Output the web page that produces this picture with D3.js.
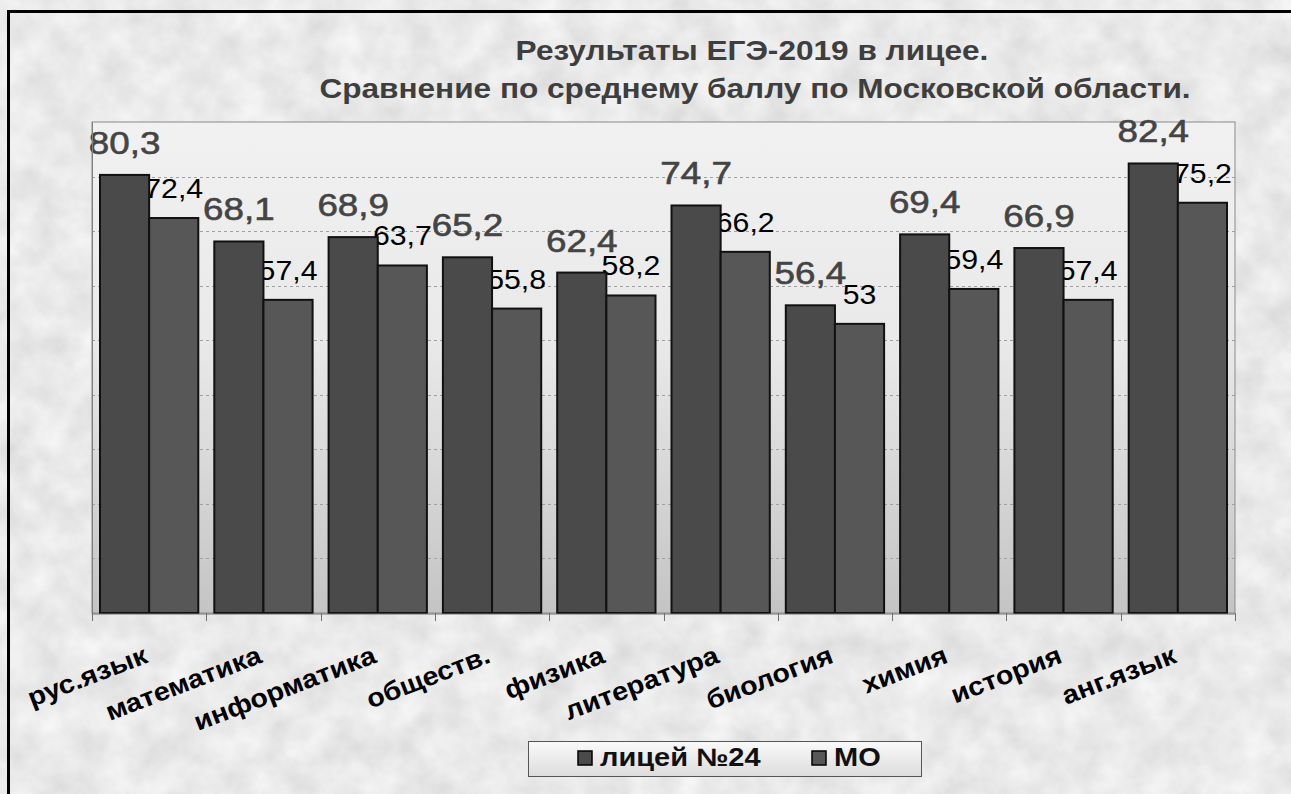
<!DOCTYPE html>
<html>
<head>
<meta charset="utf-8">
<script src="https://cdn.jsdelivr.net/npm/d3@7"></script>
<style>
  html, body { margin: 0; padding: 0; background: #fff; }
  svg { display: block; font-family: Arial, "Liberation Sans", sans-serif; }
</style>
</head>
<body>
<div id="chart"></div>
<script>
const subjects = ['рус.язык', 'математика', 'информатика', 'обществ.', 'физика',
  'литература', 'биология', 'химия', 'история', 'анг.язык'];
const lyceum = [80.3, 68.1, 68.9, 65.2, 62.4, 74.7, 56.4, 69.4, 66.9, 82.4];
const region = [72.4, 57.4, 63.7, 55.8, 58.2, 66.2, 53, 59.4, 57.4, 75.2];
const seriesNames = ['лицей №24', 'МО'];
const gridValues = [10, 20, 30, 40, 50, 60, 70, 80];
const titleLines = ['Результаты ЕГЭ-2019 в лицее.', 'Сравнение по среднему баллу по Московской области.'];

const W = 1291;
const H = 794;
const plot = { left: 92, top: 122, right: 1235, bottom: 613 };
const colors = ['#4a4a4a', '#575757'];
const SX = 1.17; // the source picture is stretched sideways

const svg = d3.select('#chart')
  .append('svg')
  .attr('width', W)
  .attr('height', H);

const defs = svg.append('defs');

// mottled grey paper background
const granite = defs.append('filter')
  .attr('id', 'granite')
  .attr('x', 0).attr('y', 0).attr('width', '100%').attr('height', '100%');
granite.append('feTurbulence')
  .attr('type', 'fractalNoise')
  .attr('baseFrequency', 0.03)
  .attr('numOctaves', 4)
  .attr('seed', 7);
granite.append('feColorMatrix')
  .attr('type', 'matrix')
  .attr('values', '0.28 0 0 0 0.68  0.28 0 0 0 0.68  0.28 0 0 0 0.68  0 0 0 0 1');

const plotGrad = defs.append('linearGradient')
  .attr('id', 'plotGrad')
  .attr('x1', 0).attr('y1', 0).attr('x2', 0).attr('y2', 1);
plotGrad.append('stop').attr('offset', '0%').attr('stop-color', '#f1f1f1');
plotGrad.append('stop').attr('offset', '45%').attr('stop-color', '#e9e9e9');
plotGrad.append('stop').attr('offset', '100%').attr('stop-color', '#c4c4c4');

const legendGrad = defs.append('linearGradient')
  .attr('id', 'legendGrad')
  .attr('x1', 0).attr('y1', 0).attr('x2', 0).attr('y2', 1);
legendGrad.append('stop').attr('offset', '0%').attr('stop-color', '#fafafa');
legendGrad.append('stop').attr('offset', '100%').attr('stop-color', '#dcdcdc');

svg.append('rect')
  .attr('width', W).attr('height', H)
  .attr('filter', 'url(#granite)');

svg.append('rect')
  .attr('x', 8.5).attr('y', 11.5)
  .attr('width', W + 20).attr('height', H + 20)
  .attr('fill', 'none')
  .attr('stroke', '#000')
  .attr('stroke-width', 3);

// title
svg.selectAll('text.title')
  .data(titleLines)
  .enter()
  .append('text')
  .attr('class', 'title')
  .attr('transform', (d, i) => `translate(${i === 0 ? 752 : 755},${60 + i * 38}) scale(${SX},1)`)
  .attr('text-anchor', 'middle')
  .attr('font-size', 27)
  .attr('font-weight', 'bold')
  .attr('fill', '#3e3e3e')
  .text(d => d);

const x0 = d3.scaleBand()
  .domain(subjects)
  .range([plot.left, plot.right])
  .paddingInner(0.14)
  .paddingOuter(0.07);

const x1 = d3.scaleBand()
  .domain([0, 1])
  .range([0, x0.bandwidth()]);

const y = d3.scaleLinear()
  .domain([0, 90])
  .range([plot.bottom, plot.top]);

// plot area
svg.append('rect')
  .attr('x', plot.left).attr('y', plot.top)
  .attr('width', plot.right - plot.left)
  .attr('height', plot.bottom - plot.top)
  .attr('fill', 'url(#plotGrad)')
  .attr('stroke', '#8a8a8a')
  .attr('stroke-width', 1);

svg.selectAll('line.grid')
  .data(gridValues)
  .enter()
  .append('line')
  .attr('class', 'grid')
  .attr('x1', plot.left).attr('x2', plot.right)
  .attr('y1', d => Math.round(y(d)) + 0.5)
  .attr('y2', d => Math.round(y(d)) + 0.5)
  .attr('stroke', '#a0a0a0')
  .attr('stroke-dasharray', '3,3');

const rows = subjects.map((s, i) => ({ subject: s, values: [lyceum[i], region[i]] }));

const groups = svg.selectAll('g.group')
  .data(rows)
  .enter()
  .append('g')
  .attr('class', 'group')
  .attr('transform', d => `translate(${x0(d.subject)},0)`);

// MO labels sit under the lyceum bars, as in the source
groups.append('text')
  .attr('transform', d => `translate(${x1(1) + x1.bandwidth() / 2},${y(d.values[1]) - 20}) scale(1.08,1)`)
  .attr('text-anchor', 'middle')
  .attr('font-size', 28)
  .attr('fill', '#000')
  .text(d => String(d.values[1]).replace('.', ','));

groups.selectAll('rect')
  .data(d => d.values)
  .enter()
  .append('rect')
  .attr('x', (d, i) => x1(i))
  .attr('y', d => y(d))
  .attr('width', x1.bandwidth())
  .attr('height', d => plot.bottom - y(d))
  .attr('fill', (d, i) => colors[i])
  .attr('stroke', '#111')
  .attr('stroke-width', 2);

groups.append('text')
  .attr('transform', d => `translate(${x1(0) + x1.bandwidth() / 2},${y(d.values[0]) - 21}) scale(1.15,1)`)
  .attr('text-anchor', 'middle')
  .attr('font-size', 32)
  .attr('stroke', '#444')
  .attr('stroke-width', 0.6)
  .attr('fill', '#444')
  .text(d => String(d.values[0]).replace('.', ','));

// axes
svg.append('line')
  .attr('x1', plot.left + 0.5).attr('x2', plot.left + 0.5)
  .attr('y1', plot.top).attr('y2', plot.bottom)
  .attr('stroke', '#808080');

const xAxis = d3.axisBottom(x0).tickSize(0).tickFormat('');
svg.append('g')
  .attr('transform', `translate(0,${plot.bottom + 0.5})`)
  .call(xAxis)
  .call(g => g.select('.domain').attr('stroke', '#707070'));

const step = (plot.right - plot.left) / subjects.length;
svg.selectAll('line.xtick')
  .data(d3.range(subjects.length + 1))
  .enter()
  .append('line')
  .attr('class', 'xtick')
  .attr('x1', i => Math.round(plot.left + i * step) + 0.5)
  .attr('x2', i => Math.round(plot.left + i * step) + 0.5)
  .attr('y1', plot.bottom)
  .attr('y2', plot.bottom + 8)
  .attr('stroke', '#707070');

svg.selectAll('text.xlab')
  .data(subjects)
  .enter()
  .append('text')
  .attr('class', 'xlab')
  .attr('transform', d => `translate(${x0(d) + x0.bandwidth() / 2},662) rotate(-21) scale(1.1,1)`)
  .attr('text-anchor', 'end')
  .attr('font-size', 26)
  .attr('font-weight', 'bold')
  .attr('fill', '#000')
  .text(d => d);

// legend
const legend = svg.append('g').attr('transform', 'translate(528,741)');
legend.append('rect')
  .attr('x', 0.5).attr('y', 0.5)
  .attr('width', 393).attr('height', 35)
  .attr('fill', 'url(#legendGrad)')
  .attr('stroke', '#555');

const legendX = [50, 284];
const items = legend.selectAll('g.item')
  .data(seriesNames)
  .enter()
  .append('g')
  .attr('class', 'item')
  .attr('transform', (d, i) => `translate(${legendX[i]},10)`);
items.append('rect')
  .attr('width', 14).attr('height', 14)
  .attr('fill', (d, i) => colors[i])
  .attr('stroke', '#000')
  .attr('stroke-width', 1.5);
items.append('text')
  .attr('transform', 'translate(22,15) scale(1.16,1)')
  .attr('font-size', 25)
  .attr('font-weight', 'bold')
  .attr('fill', '#111')
  .text(d => d);
</script>
</body>
</html>
